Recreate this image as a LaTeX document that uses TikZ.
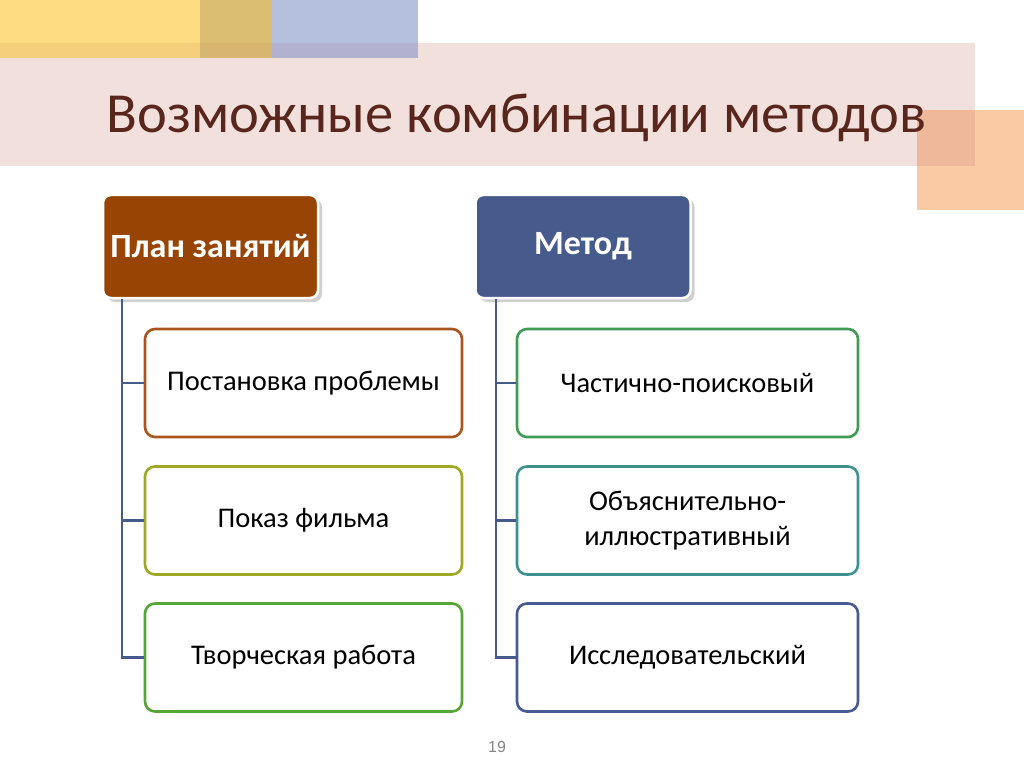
\documentclass[tikz,border=0pt]{standalone}
\usepackage{fontspec}
\setmainfont{Carlito}
\newfontfamily\numfont{Liberation Sans}
\usetikzlibrary{shadows}
\definecolor{yel}{RGB}{254,220,130}
\definecolor{tan}{RGB}{220,190,115}
\definecolor{lblue}{RGB}{180,192,222}
\definecolor{band}{RGB}{242,224,220}
\definecolor{yelb}{RGB}{246,207,125}
\definecolor{tanb}{RGB}{215,182,112}
\definecolor{lblueb}{RGB}{178,178,208}
\definecolor{orng}{RGB}{250,202,165}
\definecolor{orngb}{RGB}{240,184,155}
\definecolor{titlec}{RGB}{88,38,28}
\definecolor{brownh}{RGB}{152,68,4}
\definecolor{blueh}{RGB}{70,90,140}
\definecolor{c1}{RGB}{170,85,30}
\definecolor{c2}{RGB}{158,168,35}
\definecolor{c3}{RGB}{85,165,55}
\definecolor{c4}{RGB}{65,155,85}
\definecolor{c5}{RGB}{62,145,145}
\definecolor{c6}{RGB}{72,90,145}
\tikzset{
  hdr/.style={rounded corners=8pt, draw=white, line width=2.5pt, minimum width=215pt, minimum height=103pt,
    text=white, font=\fontsize{34}{38}\selectfont\bfseries,
    drop shadow={shadow xshift=4pt, shadow yshift=-4pt, opacity=0.3, fill=black!60}},
  child/.style={rounded corners=10pt, fill=white, line width=2.6pt, minimum height=108pt,
    font=\fontsize{28.5}{35}\selectfont, align=center, text=black},
  conn/.style={draw=blueh, line width=2.6pt}
}
\begin{document}
\begin{tikzpicture}[x=1pt,y=-1pt]
\useasboundingbox (0,0) rectangle (1024,767);
\fill[white] (0,0) rectangle (1024,767);
% top decorations
\fill[yel] (0,0) rectangle (200,58);
\fill[tan] (200,0) rectangle (272,58);
\fill[lblue] (272,0) rectangle (418,58);
\fill[band] (0,43) rectangle (975,166);
\fill[yelb] (0,43) rectangle (200,58);
\fill[tanb] (200,43) rectangle (272,58);
\fill[lblueb] (272,43) rectangle (418,58);
\fill[orng] (917,110) rectangle (1024,210);
\fill[orngb] (917,110) rectangle (975,166);
\node[text=titlec, font=\fontsize{56.6}{62}\selectfont, anchor=base west] (title) at (103,133) {Возможные комбинации методов};
% headers
\node[hdr, fill=brownh] (h1) at (210.5,246.5) {План занятий};
\node[hdr, fill=blueh] (h2) at (583,246.5) {Метод};
% children left
\node[child, draw=c1, minimum width=317pt] (a1) at (303.5,383) {Постановка проблемы};
\node[child, draw=c2, minimum width=317pt] (a2) at (303.5,520.5) {Показ фильма};
\node[child, draw=c3, minimum width=317pt] (a3) at (303.5,657.5) {Творческая работа};
% children right
\node[child, draw=c4, minimum width=341pt] (b1) at (687.5,383) {Частично-поисковый};
\node[child, draw=c5, minimum width=341pt] (b2) at (687.5,520.5) {Объяснительно-\\иллюстративный};
\node[child, draw=c6, minimum width=341pt] (b3) at (687.5,657.5) {Исследовательский};
% connectors
\coordinate (l0) at ([xshift=-88.5pt]h1.south);
\coordinate (r0) at ([xshift=-87pt]h2.south);
\draw[conn] (l0) |- (a1.west);
\draw[conn] (l0) |- (a2.west);
\draw[conn] (l0) |- (a3.west);
\draw[conn] (r0) |- (b1.west);
\draw[conn] (r0) |- (b2.west);
\draw[conn] (r0) |- (b3.west);
\node[text=black!48, font=\numfont\fontsize{16}{18}\selectfont] (pg) at (497,747) {19};
\end{tikzpicture}
\end{document}
